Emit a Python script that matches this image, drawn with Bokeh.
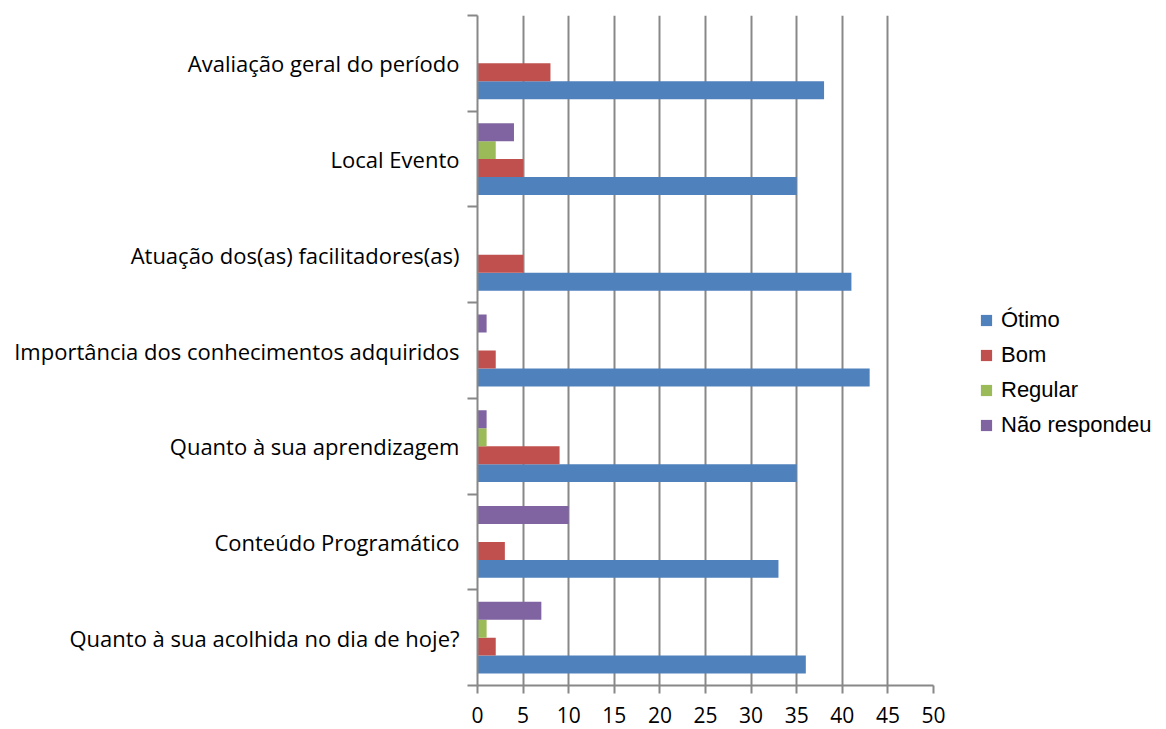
from bokeh.plotting import figure
from bokeh.layouts import row
from bokeh.models import ColumnDataSource, Range1d, FixedTicker, Legend, LegendItem
from bokeh.embed import file_html
from bokeh.resources import INLINE

categories = [
    "Avaliação geral do período",
    "Local Evento",
    "Atuação dos(as) facilitadores(as)",
    "Importância dos conhecimentos adquiridos",
    "Quanto à sua aprendizagem",
    "Conteúdo Programático",
    "Quanto à sua acolhida no dia de hoje?",
]
series_names = ["Ótimo", "Bom", "Regular", "Não respondeu"]
otimo = [38, 35, 41, 43, 35, 33, 36]
bom = [8, 5, 5, 2, 9, 3, 2]
regular = [0, 2, 0, 0, 1, 0, 1]
nao_respondeu = [0, 4, 0, 1, 1, 10, 7]
x_ticks = [0, 5, 10, 15, 20, 25, 30, 35, 40, 45, 50]
colors = ["#4F81BD", "#C0504D", "#9BBB59", "#8064A2"]

n = len(categories)
centers = [n - 1 - i for i in range(n)]
bar_h = 0.1875
offsets = [-1.5 * bar_h, -0.5 * bar_h, 0.5 * bar_h, 1.5 * bar_h]

p = figure(width=950, height=729, output_backend="svg", toolbar_location=None,
           x_range=Range1d(0, 50), y_range=Range1d(-0.5, n - 0.5),
           min_border_left=477, min_border_right=17, min_border_top=15, min_border_bottom=44)
p.outline_line_color = None

sources = []
for vals, name, col, off in zip([otimo, bom, regular, nao_respondeu], series_names, colors, offsets):
    src = ColumnDataSource(dict(y=[c + off for c in centers], right=vals))
    sources.append(src)
    p.hbar(y="y", left=0, right="right", height=bar_h, source=src,
           fill_color=col, line_color=None)

grey = "#888888"
# x axis
p.xaxis.ticker = FixedTicker(ticks=x_ticks)
p.xaxis.axis_line_color = grey
p.xaxis.axis_line_width = 2
p.xaxis.major_tick_line_color = grey
p.xaxis.major_tick_line_width = 2
p.xaxis.major_tick_out = 8
p.xaxis.major_tick_in = 0
p.xaxis.minor_tick_line_color = None
p.xaxis.major_label_text_font = "Open Sans"
p.xaxis.major_label_text_font_size = "21px"
p.xaxis.major_label_text_color = "black"
p.xaxis.major_label_standoff = 13

# y axis
p.yaxis.ticker = FixedTicker(ticks=centers, minor_ticks=[c - 0.5 for c in range(n + 1)])
p.yaxis.major_label_overrides = {c: categories[i] for i, c in enumerate(centers)}
p.yaxis.axis_line_color = grey
p.yaxis.axis_line_width = 2
p.yaxis.major_tick_line_color = None
p.yaxis.major_tick_out = 10
p.yaxis.major_tick_in = 0
p.yaxis.minor_tick_line_color = grey
p.yaxis.minor_tick_line_width = 2
p.yaxis.minor_tick_out = 10
p.yaxis.minor_tick_in = 0
p.yaxis.major_label_text_font = "Open Sans"
p.yaxis.major_label_text_font_size = "22px"
p.yaxis.major_label_text_color = "black"
p.yaxis.major_label_standoff = 8

p.xgrid.grid_line_color = grey
p.xgrid.grid_line_width = 2
p.ygrid.grid_line_color = None

# legend panel (hidden copies of the series give the legend its swatches)
lp = figure(width=216, height=729, output_backend="svg", toolbar_location=None,
            x_range=Range1d(0, 50), y_range=Range1d(-0.5, n - 0.5),
            min_border_left=0, min_border_right=0,
            min_border_top=0, min_border_bottom=0)
lp.axis.visible = False
lp.grid.visible = False
lp.outline_line_color = None
items = []
for name, col, src in zip(series_names, colors, sources):
    r = lp.hbar(y="y", left=0, right="right", height=bar_h, source=src,
                fill_color=col, line_color=None, visible=False)
    items.append(LegendItem(label=name, renderers=[r]))

legend = Legend(items=items, location=(29, 247), orientation="vertical")
legend.border_line_color = None
legend.background_fill_alpha = 0
legend.padding = 0
legend.margin = 0
legend.glyph_width = 14
legend.glyph_height = 14
legend.label_text_font = "Liberation Sans"
legend.label_text_font_size = "22px"
legend.label_text_color = "black"
legend.label_standoff = 8
legend.label_height = 20
legend.spacing = 9
legend.inactive_fill_alpha = 0
lp.add_layout(legend, "center")

layout = row(p, lp, spacing=0)
open("out.html", "w").write(file_html(layout, INLINE))
